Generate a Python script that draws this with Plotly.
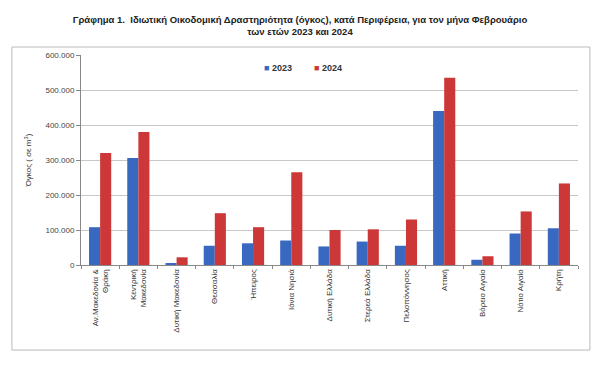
import plotly.graph_objects as go

categories = ["Αν.Μακεδονία &<br>Θράκη", "Κεντρική<br>Μακεδονία", "Δυτική Μακεδονία",
              "Θεσσαλία", "Ήπειρος", "Ιόνια Νησιά", "Δυτική Ελλάδα", "Στερεά Ελλάδα",
              "Πελοπόννησος", "Αττική", "Βόρειο Αιγαίο", "Νότιο Αιγαίο", "Κρήτη"]
series_names = ["2023", "2024"]
v2023 = [108000, 306000, 5000, 55000, 62000, 70000, 53000, 67000, 55000, 440000, 15000, 90000, 105000]
v2024 = [320000, 380000, 22000, 148000, 108000, 265000, 100000, 102000, 130000, 535000, 25000, 153000, 233000]
tickvals = [0, 100000, 200000, 300000, 400000, 500000, 600000]
colors = ["#3868c0", "#cc3838"]

font = "Liberation Sans"
fig = go.Figure()
for name, vals, c in zip(series_names, [v2023, v2024], colors):
    fig.add_trace(go.Bar(name=name, x=categories, y=vals, marker=dict(color=c, line=dict(width=0)),
                         showlegend=False))

fig.update_layout(
    width=600, height=375,
    margin=dict(l=81, r=22, t=55, b=110),
    paper_bgcolor="white", plot_bgcolor="white",
    separators=",.",
    barmode="group", bargap=0.42, bargroupgap=0,
    font=dict(family=font, size=8, color="#333"),
    title=dict(text="<b>Γράφημα 1.  Ιδιωτική Οικοδομική Δραστηριότητα (όγκος), κατά Περιφέρεια, για τον μήνα Φεβρουάριο<br>των ετών 2023 και 2024</b>",
               x=0.5, xanchor="center", y=0.94, yanchor="top", font=dict(size=9.5, color="#222")),
)
# legend drawn as text entries (square marker + label)
leg_x = [262, 312]
for name, c, px in zip(series_names, colors, leg_x):
    fig.add_annotation(xref="paper", yref="paper", x=(px - 81) / 497, y=(265 - 68) / 210,
                       xanchor="left", yanchor="middle", showarrow=False,
                       text=f"<span style='color:{c}'>■</span> <b>{name}</b>",
                       font=dict(size=9, color="#333"))
fig.update_xaxes(showline=True, linecolor="#888", linewidth=1, ticks="outside", tickson="boundaries",
                 ticklen=3, tickcolor="#888", tickangle=-90, tickfont=dict(size=8, color="#333"))
fig.update_yaxes(range=[0, 600000], tickvals=tickvals, tickformat=",d", showgrid=True, gridcolor="#c8c8c8",
                 showline=True, linecolor="#888", ticks="outside", ticklen=4, tickcolor="#888",
                 tickfont=dict(size=8, color="#444"),
                 title=dict(text="Όγκος ( σε m<sup>3</sup>)", font=dict(size=8, color="#333"), standoff=12))
fig.add_shape(type="rect", xref="paper", yref="paper", x0=-0.139, x1=1.024, y0=-0.405, y1=1.038,
              line=dict(color="#bbb", width=1), fillcolor="rgba(0,0,0,0)", layer="below")
fig.write_html("out.html", post_script="document.body.style.margin='0';",
               config={"displayModeBar": False})
